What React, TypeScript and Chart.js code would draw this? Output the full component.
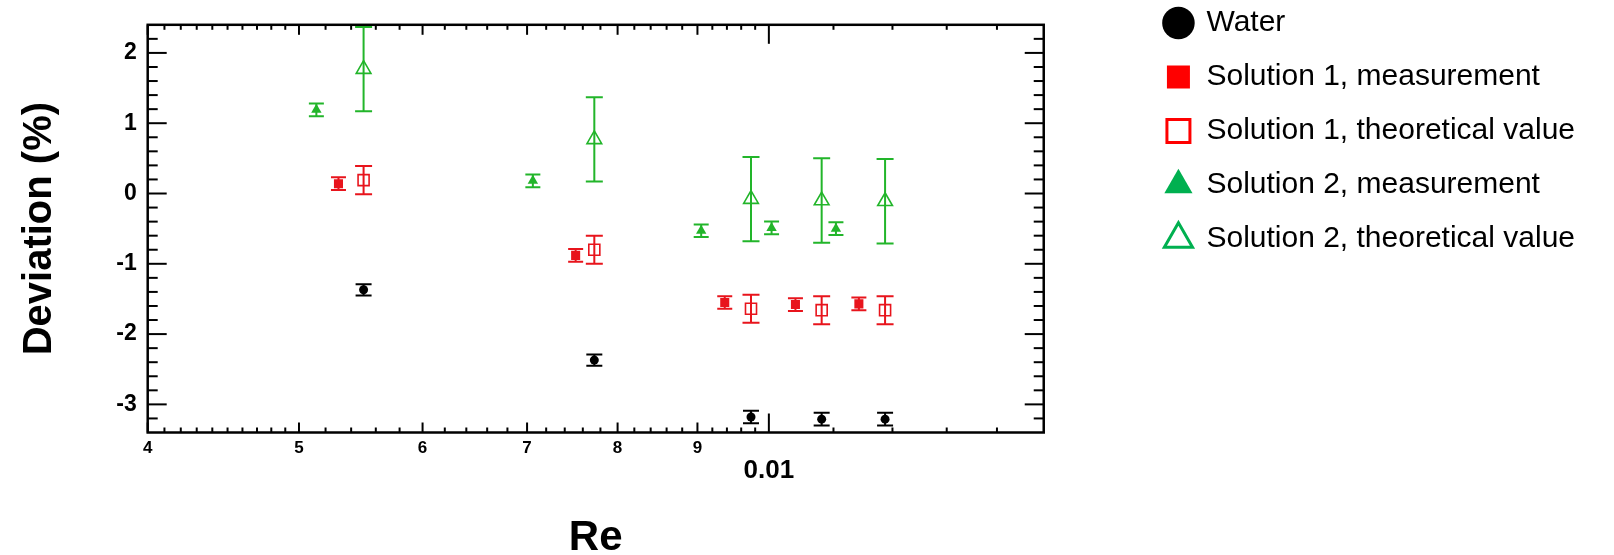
import React, { useEffect, useRef } from "react";
import { Chart, registerables } from "chart.js";

Chart.register(...registerables);

// ---------------- data (Re in absolute units, deviation in %) ----------------
const WATER_RE = [0.0055, 0.00773, 0.00974, 0.01081, 0.01187];
const WATER_DEV = [-1.37, -2.37, -3.18, -3.21, -3.21];
const WATER_ERR = [0.08, 0.08, 0.09, 0.09, 0.09];

const SOL1_MEAS_RE = [0.0053, 0.00752, 0.00937, 0.0104, 0.01142];
const SOL1_MEAS_DEV = [0.14, -0.88, -1.55, -1.58, -1.57];
const SOL1_MEAS_ERR = [0.09, 0.09, 0.09, 0.09, 0.09];

const SOL1_THEO_RE = [0.0055, 0.00773, 0.00974, 0.01081, 0.01187];
const SOL1_THEO_DEV = [0.19, -0.8, -1.64, -1.66, -1.66];
const SOL1_THEO_ERR = [0.2, 0.2, 0.2, 0.2, 0.2];

const SOL2_MEAS_RE = [0.00513, 0.00706, 0.00905, 0.01004, 0.01104];
const SOL2_MEAS_DEV = [1.19, 0.18, -0.53, -0.49, -0.5];
const SOL2_MEAS_ERR = [0.09, 0.09, 0.09, 0.09, 0.09];

const SOL2_THEO_RE = [0.0055, 0.00773, 0.00974, 0.01081, 0.01187];
const SOL2_THEO_DEV = [1.77, 0.77, -0.08, -0.1, -0.11];
const SOL2_THEO_ERR = [0.6, 0.6, 0.6, 0.6, 0.6];

const SERIES_NAMES = [
  "Water",
  "Solution 1, measurement",
  "Solution 1, theoretical value",
  "Solution 2, measurement",
  "Solution 2, theoretical value",
];

// ---------------- axes ----------------
const X_MIN = 0.004;
const X_MAX = 0.015;
const X_TICKS = [0.004, 0.005, 0.006, 0.007, 0.008, 0.009, 0.01];
const X_TICK_LABELS = ["4", "5", "6", "7", "8", "9", "0.01"];
const X_MINOR_TICKS = [
  0.0041, 0.0042, 0.0043, 0.0044, 0.0045, 0.0046, 0.0047, 0.0048, 0.0049,
  0.0052, 0.0054, 0.0056, 0.0058,
  0.0062, 0.0064, 0.0066, 0.0068,
  0.0072, 0.0074, 0.0076, 0.0078,
  0.0082, 0.0084, 0.0086, 0.0088,
  0.0092, 0.0094, 0.0096, 0.0098,
  0.011, 0.012, 0.013, 0.014,
];
const Y_MIN = -3.4;
const Y_MAX = 2.4;
const Y_TICKS = [-3, -2, -1, 0, 1, 2];
const Y_MINOR_TICKS = [
  -3.2, -2.8, -2.6, -2.4, -2.2, -1.8, -1.6, -1.4, -1.2, -0.8, -0.6, -0.4, -0.2,
  0.2, 0.4, 0.6, 0.8, 1.2, 1.4, 1.6, 1.8, 2.2,
];

const FONT = '"Liberation Sans", Arial, Helvetica, sans-serif';
const RED = "#e8141c";
const GREEN = "#22b52a";
const LEGEND_RED = "#ff0000";
const LEGEND_GREEN = "#00b050";

const toPoints = (xs: number[], ys: number[]) => xs.map((x, i) => ({ x, y: ys[i] }));

// error bars drawn below the markers
const errorBarPlugin = {
  id: "errorBars",
  beforeDatasetsDraw(chart: any) {
    const { ctx } = chart;
    const ys = chart.scales.y;
    ctx.save();
    chart.data.datasets.forEach((ds: any, di: number) => {
      const meta = chart.getDatasetMeta(di);
      ctx.strokeStyle = ds.borderColor;
      ctx.lineWidth = 2;
      const half = ds.capHalf || 8;
      meta.data.forEach((el: any, i: number) => {
        const p = ds.data[i];
        const e = ds.errors[i];
        const yt = ys.getPixelForValue(p.y + e);
        const yb = ys.getPixelForValue(p.y - e);
        const x = el.x;
        ctx.beginPath();
        ctx.moveTo(x, yt);
        ctx.lineTo(x, yb);
        ctx.moveTo(x - half, yt);
        ctx.lineTo(x + half, yt);
        ctx.moveTo(x - half, yb);
        ctx.lineTo(x + half, yb);
        ctx.stroke();
      });
    });
    ctx.restore();
  },
};

// frame with inward ticks on all four sides
const framePlugin = {
  id: "frameTicks",
  afterDraw(chart: any) {
    const { ctx, chartArea: a } = chart;
    const xs = chart.scales.x;
    const ys = chart.scales.y;
    ctx.save();
    ctx.strokeStyle = "#000";
    ctx.lineWidth = 2;
    const line = (x1: number, y1: number, x2: number, y2: number) => {
      ctx.beginPath();
      ctx.moveTo(x1, y1);
      ctx.lineTo(x2, y2);
      ctx.stroke();
    };
    const xTick = (v: number, len: number) => {
      const px = xs.getPixelForValue(v);
      line(px, a.bottom, px, a.bottom - len);
      line(px, a.top, px, a.top + len);
    };
    const yTick = (v: number, len: number) => {
      const py = ys.getPixelForValue(v);
      line(a.left, py, a.left + len, py);
      line(a.right, py, a.right - len, py);
    };
    X_MINOR_TICKS.forEach((v) => xTick(v, 5));
    X_TICKS.forEach((v, i) => xTick(v, X_TICK_LABELS[i] === "0.01" ? 19 : 10));
    Y_MINOR_TICKS.forEach((v) => yTick(v, 10));
    Y_TICKS.forEach((v) => yTick(v, 19));
    ctx.lineWidth = 2.5;
    ctx.strokeRect(a.left, a.top, a.right - a.left, a.bottom - a.top);
    ctx.restore();
  },
};

const LEGEND_FILL = ["#000000", LEGEND_RED, "#ffffff", LEGEND_GREEN, "#ffffff"];
const LEGEND_STROKE = ["#000000", LEGEND_RED, LEGEND_RED, LEGEND_GREEN, LEGEND_GREEN];
const LEGEND_LINE = [0, 0, 3, 0, 3];

export default function App() {
  const canvasRef = useRef<HTMLCanvasElement | null>(null);

  useEffect(() => {
    if (!canvasRef.current) return;
    const chart = new Chart(canvasRef.current, {
      type: "scatter",
      data: {
        datasets: [
          {
            label: SERIES_NAMES[0],
            data: toPoints(WATER_RE, WATER_DEV),
            errors: WATER_ERR,
            pointStyle: "circle",
            pointRadius: 4.5,
            backgroundColor: "#000",
            borderColor: "#000",
            borderWidth: 0,
          } as any,
          {
            label: SERIES_NAMES[1],
            data: toPoints(SOL1_MEAS_RE, SOL1_MEAS_DEV),
            errors: SOL1_MEAS_ERR,
            capHalf: 7.5,
            pointStyle: "rect",
            pointRadius: 6.4,
            backgroundColor: RED,
            borderColor: RED,
            borderWidth: 0,
          } as any,
          {
            label: SERIES_NAMES[2],
            data: toPoints(SOL1_THEO_RE, SOL1_THEO_DEV),
            errors: SOL1_THEO_ERR,
            capHalf: 8.5,
            pointStyle: "rect",
            pointRadius: 7.8,
            backgroundColor: "rgba(0,0,0,0)",
            borderColor: RED,
            borderWidth: 1.6,
          } as any,
          {
            label: SERIES_NAMES[3],
            data: toPoints(SOL2_MEAS_RE, SOL2_MEAS_DEV),
            errors: SOL2_MEAS_ERR,
            capHalf: 7.5,
            pointStyle: "triangle",
            pointRadius: 6,
            backgroundColor: GREEN,
            borderColor: GREEN,
            borderWidth: 0,
          } as any,
          {
            label: SERIES_NAMES[4],
            data: toPoints(SOL2_THEO_RE, SOL2_THEO_DEV),
            errors: SOL2_THEO_ERR,
            capHalf: 8.5,
            pointStyle: "triangle",
            pointRadius: 8.5,
            backgroundColor: "rgba(0,0,0,0)",
            borderColor: GREEN,
            borderWidth: 1.6,
          } as any,
        ],
      },
      options: {
        responsive: false,
        animation: false,
        devicePixelRatio: 1,
        layout: { padding: { top: -16, right: 29, bottom: 0, left: 0 } },
        scales: {
          x: {
            type: "logarithmic",
            position: "bottom",
            min: X_MIN,
            max: X_MAX,
            afterBuildTicks: (s: any) => {
              s.ticks = X_TICKS.map((v) => ({ value: v }));
            },
            grid: { display: false, drawTicks: false },
            border: { display: false },
            ticks: {
              autoSkip: false,
              maxRotation: 0,
              minRotation: 0,
              padding: 6,
              color: "#000",
              callback: (_v: any, i: number) => X_TICK_LABELS[i] ?? "",
              font: (c: any) =>
                X_TICK_LABELS[c.index] === "0.01"
                  ? { family: FONT, size: 26, weight: "bold", lineHeight: 2.48 }
                  : { family: FONT, size: 17, weight: "bold", lineHeight: 1.15 },
            },
            title: {
              display: true,
              text: "Re",
              color: "#000",
              font: { family: FONT, size: 42, weight: "bold", lineHeight: 0.8 },
              padding: { top: 0, bottom: 0 },
            },
            afterFit: (s: any) => {
              s.height = 122.5;
            },
          },
          xTop: {
            type: "linear",
            position: "top",
            min: 0,
            max: 1,
            ticks: { display: false },
            grid: { display: false, drawTicks: false },
            border: { display: false },
            afterFit: (s: any) => {
              s.height = 34.3;
            },
          },
          y: {
            type: "linear",
            position: "left",
            min: Y_MIN,
            max: Y_MAX,
            afterBuildTicks: (s: any) => {
              s.ticks = Y_TICKS.map((v) => ({ value: v }));
            },
            grid: { display: false, drawTicks: false },
            border: { display: false },
            ticks: {
              autoSkip: false,
              padding: 11,
              color: "#000",
              font: { family: FONT, size: 23, weight: "bold" },
              callback: (v: any) => String(v),
            },
            title: {
              display: true,
              text: "Deviation (%)",
              color: "#000",
              font: { family: FONT, size: 40, weight: "bold", lineHeight: 1.2 },
              padding: { top: 16, bottom: 0 },
            },
            afterFit: (s: any) => {
              s.width = 147.7;
            },
          },
          yRight: {
            type: "linear",
            position: "right",
            min: 0,
            max: 1,
            ticks: { display: false },
            grid: { display: false, drawTicks: false },
            border: { display: false },
            afterFit: (s: any) => {
              s.width = 97.7;
            },
          },
        },
        plugins: {
          tooltip: { enabled: false },
          legend: {
            position: "right",
            align: "start",
            maxWidth: 600,
            labels: {
              usePointStyle: true,
              boxWidth: 26,
              boxHeight: 23,
              padding: 24,
              color: "#000",
              font: { family: FONT, size: 30 },
              generateLabels: (c: any) => {
                const items = (Chart.defaults as any).plugins.legend.labels.generateLabels(c);
                return items.map((it: any, i: number) => ({
                  ...it,
                  fillStyle: LEGEND_FILL[i],
                  strokeStyle: LEGEND_STROKE[i],
                  lineWidth: LEGEND_LINE[i],
                }));
              },
            },
          },
        },
      } as any,
      plugins: [errorBarPlugin, framePlugin],
    });
    return () => chart.destroy();
  }, []);

  return (
    <div style={{ position: "fixed", left: 0, top: 0, width: 1614, height: 555, background: "#fff" }}>
      <canvas ref={canvasRef} width={1614} height={555} style={{ display: "block" }} />
    </div>
  );
}
